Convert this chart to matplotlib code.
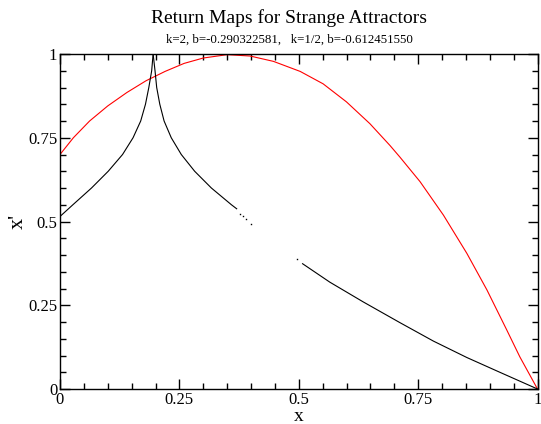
import numpy as np
import matplotlib.pyplot as plt
from matplotlib.ticker import MultipleLocator, FixedFormatter, FixedLocator

# k=2 map: left branch up to the cusp, right branch down to the gap
k2_left_x = [0.0, 0.027, 0.066, 0.101, 0.131, 0.153, 0.169, 0.179, 0.186, 0.192, 0.195]
k2_left_y = [0.515, 0.55, 0.60, 0.65, 0.70, 0.75, 0.80, 0.85, 0.90, 0.95, 1.0]
k2_right_x = [0.195, 0.199, 0.2025, 0.209, 0.218, 0.233, 0.254, 0.282, 0.317, 0.359, 0.370]
k2_right_y = [1.0, 0.95, 0.90, 0.85, 0.80, 0.75, 0.70, 0.65, 0.60, 0.55, 0.538]
# a few scattered points across the gap
k2_dots_x = [0.377, 0.384, 0.390, 0.399, 0.496]
k2_dots_y = [0.523, 0.515, 0.508, 0.493, 0.389]
k2_tail_x = [0.508, 0.565, 0.635, 0.712, 0.782, 0.852, 0.921, 1.0]
k2_tail_y = [0.374, 0.319, 0.260, 0.198, 0.143, 0.094, 0.050, 0.0]

# k=1/2 map
k12_x = [0.0, 0.028, 0.062, 0.100, 0.140, 0.180, 0.220, 0.260, 0.300, 0.350, 0.398,
         0.447, 0.503, 0.551, 0.600, 0.649, 0.691, 0.712, 0.754, 0.803, 0.852,
         0.894, 0.935, 0.963, 1.0]
k12_y = [0.700, 0.750, 0.800, 0.845, 0.885, 0.920, 0.948, 0.972, 0.988, 0.998, 0.994,
         0.978, 0.948, 0.911, 0.857, 0.792, 0.727, 0.692, 0.619, 0.519, 0.405,
         0.296, 0.178, 0.096, 0.0]

tick_vals = [0, 0.25, 0.5, 0.75, 1]
tick_labels = ['0', '0.25', '0.5', '0.75', '1']

plt.rcParams['font.family'] = 'Liberation Serif'

fig = plt.figure(figsize=(5.41, 4.24), dpi=100)
ax = fig.add_axes([60 / 541, 1 - 389 / 424, 477.5 / 541, 335 / 424])

ax.plot(k12_x, k12_y, color='red', lw=0.8)
ax.plot(k2_left_x, k2_left_y, color='black', lw=0.8)
ax.plot(k2_right_x, k2_right_y, color='black', lw=0.8)
ax.plot(k2_dots_x, k2_dots_y, 's', color='black', ms=1.0, mew=0)
ax.plot(k2_tail_x, k2_tail_y, color='black', lw=0.8)

ax.set_xlim(0, 1)
ax.set_ylim(0, 1)
for axis in (ax.xaxis, ax.yaxis):
    axis.set_major_locator(FixedLocator(tick_vals))
    axis.set_major_formatter(FixedFormatter(tick_labels))
    axis.set_minor_locator(MultipleLocator(0.05))
ax.tick_params(which='both', direction='in', top=True, right=True,
               labelsize=12, width=1.0)
ax.tick_params(which='major', length=7)
ax.tick_params(which='minor', length=4)
ax.tick_params(axis='x', pad=2)
ax.tick_params(axis='y', pad=2)
for s in ax.spines.values():
    s.set_linewidth(1.0)

ax.set_xlabel('x', fontsize=14, labelpad=0)
ax.set_ylabel("x'", fontsize=16, labelpad=0)
fig.text(289 / 541, 1 - 18 / 424, 'Return Maps for Strange Attractors',
         ha='center', va='center', fontsize=14)
fig.text(289 / 541, 1 - 40 / 424, 'k=2, b=-0.290322581,   k=1/2, b=-0.612451550',
         ha='center', va='center', fontsize=9.3)

fig.savefig('out.png', dpi=100)
